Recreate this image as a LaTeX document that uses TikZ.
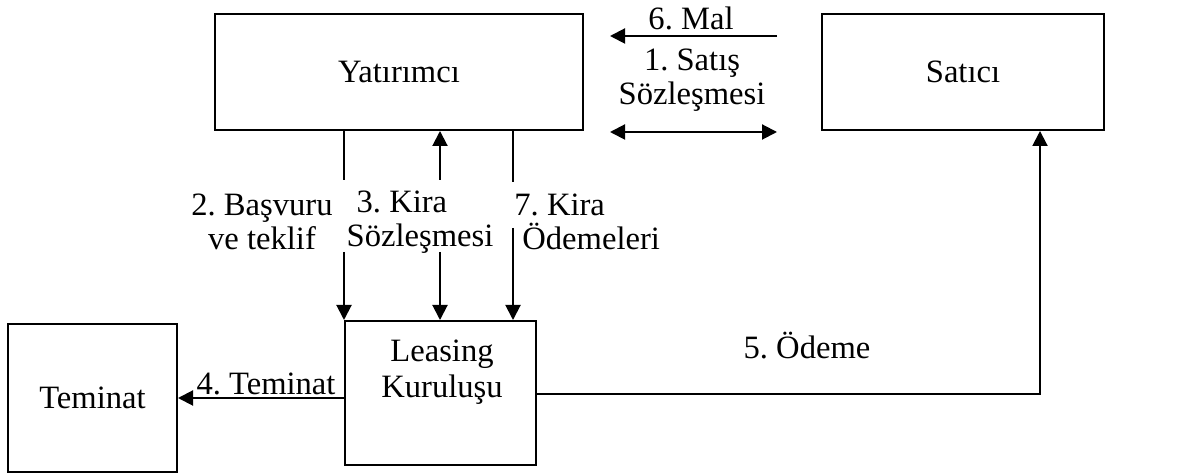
\documentclass[tikz,border=0pt]{standalone}
\usepackage{fontspec}
\setmainfont{Liberation Serif}
\usetikzlibrary{arrows.meta}
\frenchspacing

\tikzset{
    kutu/.style={draw, line width=1pt, inner sep=0pt},
    cizgi/.style={line width=1pt},
    ok/.style={line width=1pt, -{Triangle[length=7.5pt,width=7.5pt]}},
    ciftok/.style={line width=1pt, {Triangle[length=7.5pt,width=7.5pt]}-{Triangle[length=7.5pt,width=7.5pt]}},
}

\begin{document}
\begin{tikzpicture}[x=0.5pt, y=-0.5pt, font=\fontsize{16.3}{17}\selectfont]
    \useasboundingbox (0,0) rectangle (1186,474);

    % kutular
    \node[kutu, minimum width=184pt, minimum height=58pt] (yat) at (399,72) {Yatırımcı};
    \node[kutu, minimum width=141pt, minimum height=58pt] (sat) at (963,72) {Satıcı};
    \node[kutu, minimum width=84.5pt, minimum height=74pt] (tem) at (92.5,398) {Teminat};
    \node[kutu, minimum width=95.5pt, minimum height=72pt] (lea) at (440.5,393) {};
    \node[align=center, font=\fontsize{16.3}{18}\selectfont] (leatxt) at (442,372) {Leasing\\Kuruluşu};

    % yardimci noktalar
    \coordinate (m6a) at (777,36);
    \coordinate (m6b) at (610,36);
    \coordinate (s1a) at (610,132);
    \coordinate (s1b) at (777,132);
    \coordinate (g2a) at (344,180);
    \coordinate (g2b) at (344,252);
    \coordinate (g3a) at (440,180);
    \coordinate (g3b) at (440,252);
    \coordinate (g7a) at (513,182);
    \coordinate (g7b) at (513,228);
    \coordinate (o5) at (1040,394);

    % oklar
    \draw[ok] (m6a) -- (m6b);
    \draw[ciftok] (s1a) -- (s1b);

    \draw[cizgi] (yat.south -| g2a) -- (g2a);
    \draw[ok] (g2b) -- (lea.north -| g2b);

    \draw[ok] (g3a) -- (yat.south -| g3a);
    \draw[ok] (g3b) -- (lea.north -| g3b);

    \draw[cizgi] (yat.south -| g7a) -- (g7a);
    \draw[ok] (g7b) -- (lea.north -| g7b);

    \draw[ok] (lea.west |- tem.east) -- (tem.east);
    \draw[ok] (lea.east |- o5) -- (o5) -- (sat.south -| o5);

    % etiketler
    \node[anchor=base] (l6) at (691,30) {6. Mal};
    \node[align=center] (l1) at (692,80) {1. Satış\\Sözleşmesi};
    \node[align=center] (l2) at (262,222) {2. Başvuru\\ve teklif};
    \node[align=left] (l3) at (420,222) {\hspace{5pt}3. Kira\\Sözleşmesi};
    \node[align=left, anchor=west, inner sep=0pt] (l7) at (514,222) {7. Kira\\\hspace{4pt}Ödemeleri};
    \node[anchor=base] (l4) at (266,395) {4. Teminat};
    \node (l5) at (807,346) {5. Ödeme};

\end{tikzpicture}
\end{document}
